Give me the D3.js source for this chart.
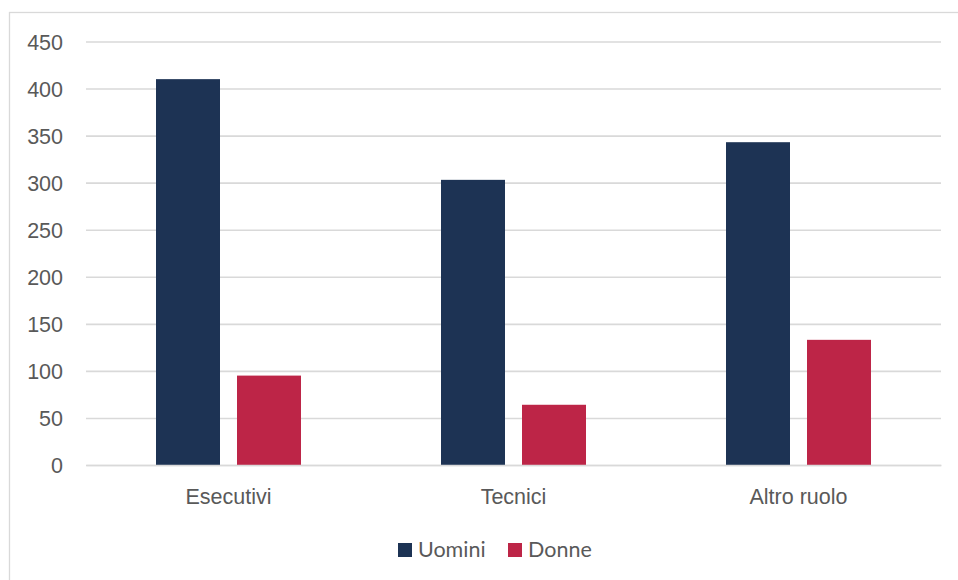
<!DOCTYPE html>
<html>
<head>
<meta charset="utf-8">
<script src="https://cdn.jsdelivr.net/npm/d3@7"></script>
<style>
  html, body { margin: 0; padding: 0; background: #ffffff; }
  svg { display: block; font-family: Lato, "Open Sans", sans-serif; }
</style>
</head>
<body>
<svg id="chart" width="958" height="580"></svg>
<script>
// Organico per ruolo e genere
const categories = ["Esecutivi", "Tecnici", "Altro ruolo"];
const seriesNames = ["Uomini", "Donne"];
const uomini = [410, 303, 343];
const donne = [95, 64, 133];
const yTicks = [0, 50, 100, 150, 200, 250, 300, 350, 400, 450];
const colors = ["#1d3354", "#bd2547"];

const values = [uomini, donne];
const fontSize = "21.5px";

const svg = d3.select("#chart");
const plot = { left: 86, right: 941, top: 41.5, bottom: 465 };

// outer chart frame
svg.append("rect")
  .attr("x", 9.5).attr("y", 12.5)
  .attr("width", 960).attr("height", 600)
  .attr("fill", "#ffffff")
  .attr("stroke", "#d9d9d9").attr("stroke-width", 1.3);

const x = d3.scaleBand()
  .domain(categories)
  .range([plot.left, plot.right])
  .paddingInner(0).paddingOuter(0);

const y = d3.scaleLinear()
  .domain([0, 450])
  .range([plot.bottom, plot.top]);

// horizontal gridlines
const yAxis = d3.axisLeft(y)
  .tickValues(yTicks)
  .tickSize(-(plot.right - plot.left))
  .tickPadding(23)
  .tickFormat(d3.format("d"));

const gy = svg.append("g")
  .attr("transform", `translate(${plot.left},0)`)
  .call(yAxis);
gy.select(".domain").remove();
gy.selectAll(".tick line")
  .attr("stroke", "#d9d9d9").attr("stroke-width", 1.6);
gy.selectAll(".tick text")
  .attr("fill", "#595959")
  .style("font-size", fontSize)
  .attr("dy", "0.35em");

// bars: grouped within each category band
const barW = 64, barGap = 17;
const groupW = barW * 2 + barGap;

const groups = svg.append("g").selectAll("g")
  .data(categories)
  .join("g")
  .attr("transform", c => `translate(${x(c) + x.bandwidth() / 2 - groupW / 2},0)`);

groups.selectAll("rect")
  .data((c, i) => values.map((s, k) => ({ k, v: s[i] })))
  .join("rect")
  .attr("x", d => d.k * (barW + barGap))
  .attr("y", d => y(d.v))
  .attr("width", barW)
  .attr("height", d => y(0) - y(d.v))
  .attr("fill", d => colors[d.k]);

// category axis
const xAxis = d3.axisBottom(x).tickSize(0).tickPadding(0);
const gx = svg.append("g")
  .attr("transform", `translate(0,${plot.bottom})`)
  .call(xAxis);
gx.select(".domain")
  .attr("stroke", "#d9d9d9").attr("stroke-width", 1.6);
gx.selectAll(".tick text")
  .attr("fill", "#595959")
  .style("font-size", fontSize)
  .attr("dy", null)
  .attr("y", 38.5);

// legend
const legendItems = [
  { name: seriesNames[0], x: 398 },
  { name: seriesNames[1], x: 508 }
];
const lg = svg.append("g").selectAll("g")
  .data(legendItems)
  .join("g")
  .attr("transform", (d) => `translate(${d.x},543)`);
lg.append("rect")
  .attr("width", 14).attr("height", 14)
  .attr("fill", (d, i) => colors[i]);
lg.append("text")
  .attr("x", 20).attr("y", 14)
  .attr("fill", "#595959")
  .style("font-size", fontSize)
  .text(d => d.name);
</script>
</body>
</html>
